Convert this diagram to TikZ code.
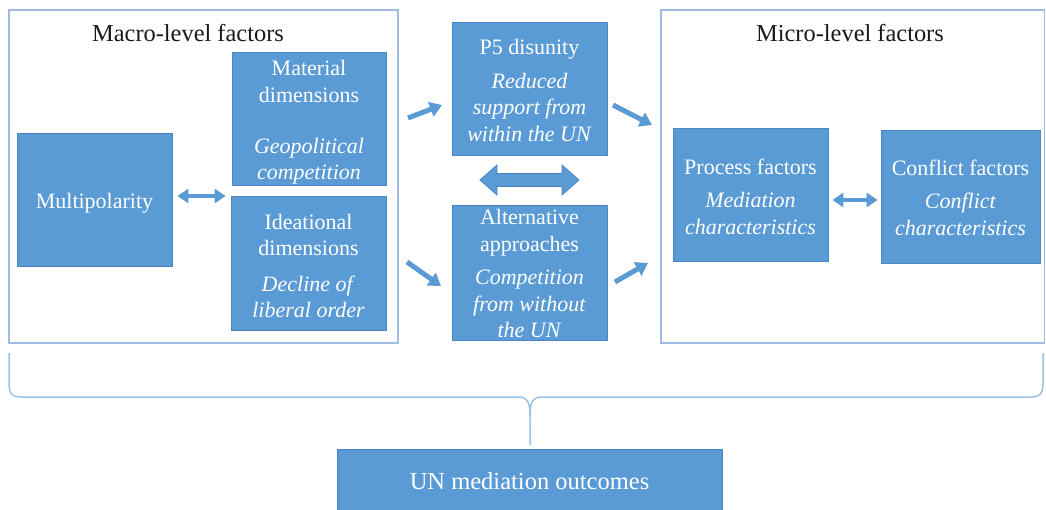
\documentclass[tikz,border=0pt]{standalone}
\usepackage{fontspec}
\setmainfont{Liberation Serif}
\usetikzlibrary{arrows.meta}
\definecolor{boxblue}{HTML}{5B9BD5}
\definecolor{boxedge}{HTML}{4A87C4}
\definecolor{framec}{HTML}{9FBCE0}
\definecolor{bracec}{HTML}{9DC3E6}
\definecolor{arrowc}{HTML}{5B9BD5}
\newcommand\tstrut[1]{\rule{0pt}{#1}}
\begin{document}
\begin{tikzpicture}[x=1pt,y=-1pt,
  box/.style={draw=boxedge, line width=0.8pt, fill=boxblue, text=white, align=center,
    inner sep=0pt, font=\fontsize{22}{26.5}\selectfont},
  frame/.style={draw=framec, line width=1.3pt},
  title/.style={font=\fontsize{24.4}{27}\selectfont, text=black!90, inner sep=0pt},
  fatarrow/.style={draw=arrowc, line width=5pt, -{Triangle[width=15pt,length=12pt]}},
  dblarrow/.style={draw=arrowc, line width=3.5pt,
    {Triangle[width=14pt,length=11pt]}-{Triangle[width=14pt,length=11pt]}},
]
\useasboundingbox (0,0) rectangle (1046,509);
\fill[white] (0,0) rectangle (1046,509);

% frames
\draw[frame] (9,10) rectangle (398,343);
\draw[frame] (661,10) rectangle (1044.5,343);
\node[title] (macrot) at (188,33) {Macro-level factors};
\node[title] (microt) at (850,33) {Micro-level factors};

% boxes
\node[box, minimum width=155pt, minimum height=133pt] (multi) at (94.5,199.5) {\tstrut{23.4pt}Multipolarity};
\node[box, minimum width=154pt, minimum height=133pt] (mat) at (309,118.5)
  {\tstrut{23.4pt}Material\\dimensions\\[24.5pt]\textit{Geopolitical}\\\textit{competition}};
\node[box, minimum width=155pt, minimum height=134pt] (ide) at (308.5,263)
  {\tstrut{21.4pt}Ideational\\dimensions\\[9pt]\textit{Decline of}\\\textit{liberal order}};
\node[box, minimum width=155pt, minimum height=133pt] (p5) at (529.5,88.5)
  {\tstrut{19.4pt}P5 disunity\\[7pt]\textit{Reduced}\\\textit{support from}\\\textit{within the UN}};
\node[box, minimum width=155pt, minimum height=135pt] (alt) at (529.5,272.5)
  {\tstrut{17.4pt}Alternative\\approaches\\[7pt]\textit{Competition}\\\textit{from without}\\\textit{the UN}};
\node[box, minimum width=155pt, minimum height=133pt] (proc) at (750.5,194.5)
  {\tstrut{19.4pt}Process factors\\[7pt]\textit{Mediation}\\\textit{characteristics}};
\node[box, minimum width=159pt, minimum height=133pt] (conf) at (960.5,196.5)
  {\tstrut{17.4pt}Conflict factors\\[7pt]\textit{Conflict}\\\textit{characteristics}};
\node[box, minimum width=385pt, minimum height=64pt, font=\fontsize{24.5}{27}\selectfont] (un) at (529.5,481)
  {UN mediation outcomes};

% small double arrows
\draw[dblarrow] ([shift={(5,-3.5)}]multi.east) -- ([shift={(-5,-3.5)}]multi.east -| ide.west);
\draw[dblarrow] ([shift={(4,5.5)}]proc.east) -- ([shift={(-3,5.5)}]proc.east -| conf.west);

% fat arrows
\coordinate (ulA) at (408,118); \coordinate (ulB) at (442,105);
\coordinate (urA) at (613,105); \coordinate (urB) at (652,125);
\coordinate (llA) at (407,262); \coordinate (llB) at (441,286);
\coordinate (lrA) at (615,282); \coordinate (lrB) at (648,263);
\draw[fatarrow] (ulA) -- (ulB);
\draw[fatarrow] (urA) -- (urB);
\draw[fatarrow] (llA) -- (llB);
\draw[fatarrow] (lrA) -- (lrB);

% big double block arrow
\draw[fill=boxblue, draw=boxedge, line width=0.8pt]
  (480,180) -- (497,165) -- (497,173.5) -- (562,173.5) -- (562,165) -- (579,180)
  -- (562,195) -- (562,186.5) -- (497,186.5) -- (497,195) -- cycle;

% brace
\draw[draw=bracec, line width=1.5pt]
  (9,353) -- (9,383) .. controls (9,394) and (12,397) .. (22,397) -- (518,397)
  .. controls (527,397) and (530,401) .. (530,416) -- (530,445);
\draw[draw=bracec, line width=1.5pt]
  (1043,353) -- (1043,383) .. controls (1043,394) and (1040,397) .. (1030,397) -- (542,397)
  .. controls (533,397) and (530,401) .. (530,416);
\end{tikzpicture}
\end{document}
